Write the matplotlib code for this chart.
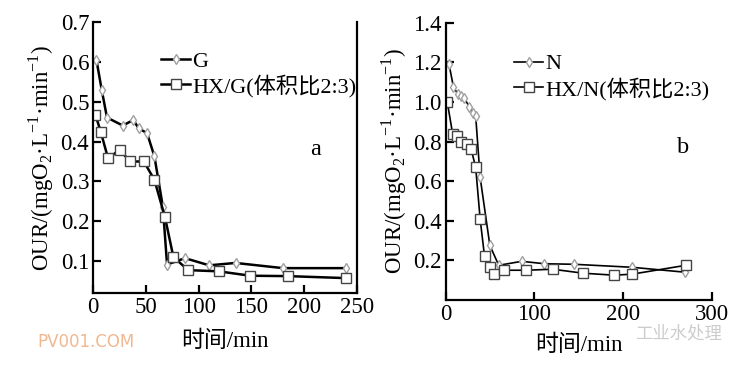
import matplotlib
matplotlib.use("Agg")
import matplotlib.pyplot as plt

plt.rcParams['font.family'] = ['Liberation Serif', 'Noto Sans CJK SC', 'DejaVu Sans']
plt.rcParams['mathtext.fontset'] = 'custom'
plt.rcParams['mathtext.rm'] = 'Liberation Serif'

# Panel a data
g_x = [3, 8, 13, 28, 38, 43, 51, 58, 66, 70, 87, 110, 135, 180, 240]
g_y = [0.604, 0.529, 0.46, 0.44, 0.454, 0.433, 0.421, 0.363, 0.237, 0.092, 0.108, 0.09, 0.096, 0.083, 0.083]
hxg_x = [2, 7, 14, 25, 35, 48, 58, 68, 76, 90, 119, 149, 185, 240]
hxg_y = [0.467, 0.425, 0.358, 0.379, 0.35, 0.35, 0.304, 0.211, 0.111, 0.078, 0.075, 0.064, 0.063, 0.058]

# Panel b data
n_x = [4, 9, 14, 18, 21, 27, 31, 34, 39, 50, 60, 86, 111, 145, 210, 270]
n_y = [1.19, 1.075, 1.04, 1.03, 1.02, 0.975, 0.945, 0.93, 0.62, 0.275, 0.175, 0.195, 0.183, 0.18, 0.165, 0.14]
hxn_x = [2, 8, 13, 18, 24, 29, 34, 39, 44, 50, 55, 66, 91, 121, 155, 190, 210, 271]
hxn_y = [1.0, 0.84, 0.83, 0.80, 0.79, 0.76, 0.67, 0.41, 0.22, 0.165, 0.13, 0.15, 0.15, 0.155, 0.135, 0.125, 0.13, 0.175]

a_xticks = [0, 50, 100, 150, 200, 250]
a_yticks = [0.1, 0.2, 0.3, 0.4, 0.5, 0.6, 0.7]
b_xticks = [0, 100, 200, 300]
b_yticks = [0.2, 0.4, 0.6, 0.8, 1.0, 1.2, 1.4]

fig = plt.figure(figsize=(7.5, 3.68), dpi=100)
axa = fig.add_axes([0.1244, 0.203, 0.3512, 0.738])
axb = fig.add_axes([0.594, 0.185, 0.355, 0.753])

FS = 16.5
LFS = 16
ylab = r'OUR/(mgO$_2$·L$^{-1}$·min$^{-1}$)'

def style(ax, right_spine):
    ax.spines['top'].set_visible(False)
    ax.spines['right'].set_visible(right_spine)
    for s in ['left', 'bottom', 'right']:
        ax.spines[s].set_linewidth(1.6)
    ax.tick_params(direction='in', length=6, width=1.6, labelsize=FS, pad=3)
    ax.tick_params(axis='y', which='both', right=False)

# Panel a
axa.plot(g_x, g_y, color='black', lw=1.8, marker='d', ms=5.5, mfc='white',
         mec='#a0a0a0', mew=1.0, label='G')
axa.plot(hxg_x, hxg_y, color='black', lw=1.8, marker='s', ms=6.5, mfc='white',
         mec='#444444', mew=1.0, label='HX/G(体积比2:3)')
axa.set_xlim(0, 250)
axa.set_ylim(0.02, 0.7)
axa.set_xticks(a_xticks)
axa.set_yticks(a_yticks)
axa.set_xticklabels([str(v) for v in a_xticks])
axa.set_yticklabels([f'{v:.1f}' for v in a_yticks])
style(axa, True)
axa.set_xlabel('时间/min', fontsize=FS, labelpad=9)
axa.set_ylabel(ylab, fontsize=FS, labelpad=3)
axa.text(0.842, 0.53, 'a', transform=axa.transAxes, fontsize=FS + 1, ha='center', va='center')
axa.legend(loc='upper left', bbox_to_anchor=(0.225, 0.925), frameon=False, fontsize=LFS,
           handlelength=1.3, handletextpad=0.08, labelspacing=0.12, borderaxespad=0)

# Panel b
axb.plot(n_x, n_y, color='black', lw=1.2, marker='d', ms=5.5, mfc='white',
         mec='#a0a0a0', mew=1.0, label='N')
axb.plot(hxn_x, hxn_y, color='black', lw=1.2, marker='s', ms=6.5, mfc='white',
         mec='#444444', mew=1.0, label='HX/N(体积比2:3)')
axb.set_xlim(0, 300)
axb.set_ylim(0, 1.4)
axb.set_xticks(b_xticks)
axb.set_yticks(b_yticks)
axb.set_xticklabels([str(v) for v in b_xticks])
axb.set_yticklabels([f'{v:.1f}' for v in b_yticks])
style(axb, False)
axb.set_xlabel('时间/min', fontsize=FS, labelpad=7)
axb.set_ylabel(ylab, fontsize=FS, labelpad=3)
axb.text(0.892, 0.55, 'b', transform=axb.transAxes, fontsize=FS + 1, ha='center', va='center')
axb.legend(loc='upper left', bbox_to_anchor=(0.225, 0.92), frameon=False, fontsize=LFS,
           handlelength=1.3, handletextpad=0.08, labelspacing=0.12, borderaxespad=0)

# watermarks
fig.text(0.05, 0.07, 'PV001.COM', color='#f0b890', fontsize=12, family='DejaVu Sans',
         ha='left', va='center')
fig.text(0.847, 0.095, '工业水处理', color='#cccccc', fontsize=12.5, family='Noto Sans CJK SC',
         ha='left', va='center')

fig.savefig('out.png', dpi=100)
